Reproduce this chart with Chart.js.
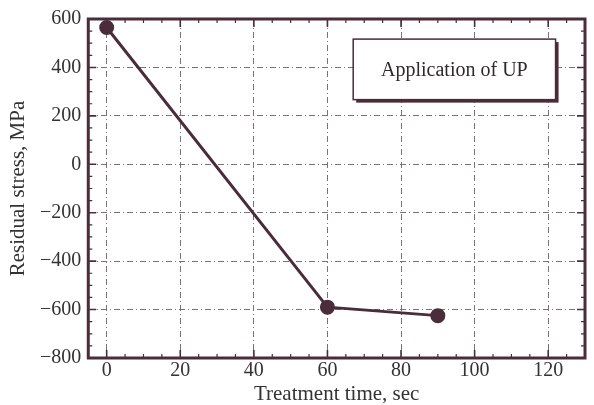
<!DOCTYPE html>
<html lang="en">
<head>
  <meta charset="UTF-8">
  <title>Residual stress vs treatment time</title>
  <script src="https://cdn.jsdelivr.net/npm/chart.js"></script>
  <style>
    html, body { margin: 0; padding: 0; background: #fff; }
    #wrap { width: 594px; height: 405px; }
  </style>
</head>
<body>
<div id="wrap"><canvas id="stressChart"></canvas></div>
<script>
  // data
  const times = [0, 60, 90];
  const stress = [565, -590, -625];
  const xTicks = [0, 20, 40, 60, 80, 100, 120];
  const yTicks = [600, 400, 200, 0, -200, -400, -600, -800];
  const xMinor = [5, 10, 15, 25, 30, 35, 45, 50, 55, 65, 70, 75, 85, 90, 95, 105, 110, 115, 125];
  const yMinor = [550, 500, 450, 350, 300, 250, 150, 100, 50, -50, -100, -150, -250, -300, -350, -450, -500, -550, -650, -700, -750];
  const boxLabel = 'Application of UP';

  const ink = '#4a2c3b';
  const serif = "'Liberation Serif', 'DejaVu Serif', serif";

  // frame, minor ticks and the label box
  const decorations = {
    id: 'decorations',
    afterDraw(chart) {
      const ctx = chart.ctx;
      const a = chart.chartArea;
      const xs = chart.scales.x, ys = chart.scales.y;
      ctx.save();
      ctx.strokeStyle = ink;

      // minor ticks, inward on all four sides
      ctx.lineWidth = 1.2;
      xMinor.forEach(v => {
        const px = xs.getPixelForValue(v);
        ctx.beginPath();
        ctx.moveTo(px, a.bottom); ctx.lineTo(px, a.bottom - 4);
        ctx.moveTo(px, a.top); ctx.lineTo(px, a.top + 4);
        ctx.stroke();
      });
      yMinor.forEach(v => {
        const py = ys.getPixelForValue(v);
        ctx.beginPath();
        ctx.moveTo(a.left, py); ctx.lineTo(a.left + 4, py);
        ctx.moveTo(a.right, py); ctx.lineTo(a.right - 4, py);
        ctx.stroke();
      });
      // major ticks
      ctx.lineWidth = 1.6;
      xTicks.forEach(v => {
        const px = xs.getPixelForValue(v);
        ctx.beginPath();
        ctx.moveTo(px, a.bottom); ctx.lineTo(px, a.bottom - 8);
        ctx.moveTo(px, a.top); ctx.lineTo(px, a.top + 8);
        ctx.stroke();
      });
      yTicks.forEach(v => {
        const py = ys.getPixelForValue(v);
        ctx.beginPath();
        ctx.moveTo(a.left, py); ctx.lineTo(a.left + 8, py);
        ctx.moveTo(a.right, py); ctx.lineTo(a.right - 8, py);
        ctx.stroke();
      });

      // frame
      ctx.lineWidth = 3;
      ctx.strokeRect(a.left, a.top, a.right - a.left, a.bottom - a.top);

      // label box with shadow
      const bx1 = xs.getPixelForValue(67), bx2 = xs.getPixelForValue(122);
      const by1 = ys.getPixelForValue(517), by2 = ys.getPixelForValue(267);
      ctx.fillStyle = ink;
      ctx.fillRect(bx1 + 3, by1 + 3, bx2 - bx1, by2 - by1);
      ctx.fillStyle = '#fff';
      ctx.fillRect(bx1, by1, bx2 - bx1, by2 - by1);
      ctx.lineWidth = 1.5;
      ctx.strokeRect(bx1, by1, bx2 - bx1, by2 - by1);
      ctx.fillStyle = '#2e2a2c';
      ctx.font = '20px ' + serif;
      ctx.textAlign = 'center';
      ctx.textBaseline = 'middle';
      ctx.fillText(boxLabel, (bx1 + bx2) / 2, (by1 + by2) / 2 + 1);
      ctx.restore();
    }
  };

  new Chart(document.getElementById('stressChart'), {
    type: 'scatter',
    data: {
      datasets: [{
        data: times.map((t, i) => ({ x: t, y: stress[i] })),
        showLine: true,
        borderColor: ink,
        backgroundColor: ink,
        borderWidth: 3,
        pointRadius: 6,
        pointHoverRadius: 6
      }]
    },
    options: {
      responsive: true,
      maintainAspectRatio: false,
      animation: false,
      layout: { padding: { top: 19, right: 3, left: 8, bottom: 0 } },
      plugins: { legend: { display: false }, tooltip: { enabled: false } },
      scales: {
        x: {
          type: 'linear',
          min: -5,
          max: 130,
          afterBuildTicks: s => { s.ticks = xTicks.map(v => ({ value: v })); },
          grid: {
            color: '#7a7078',
            lineWidth: 1,
            drawTicks: false
          },
          border: { display: false, dash: [6, 3, 1, 3] },
          ticks: {
            color: '#333',
            padding: 3,
            font: { family: serif, size: 20, lineHeight: 1 }
          },
          title: {
            display: true,
            text: 'Treatment time, sec',
            color: '#333',
            padding: { top: 0, bottom: 0 },
            font: { family: serif, size: 21, lineHeight: 1 }
          }
        },
        y: {
          type: 'linear',
          min: -800,
          max: 600,
          afterBuildTicks: s => { s.ticks = yTicks.map(v => ({ value: v })); },
          grid: {
            color: '#7a7078',
            lineWidth: 1,
            drawTicks: false
          },
          border: { display: false, dash: [6, 3, 1, 3] },
          ticks: {
            color: '#333',
            padding: 7,
            font: { family: serif, size: 20, lineHeight: 1 },
            callback: v => v < 0 ? '\u2212' + Math.abs(v) : String(v)
          },
          title: {
            display: true,
            text: 'Residual stress, MPa',
            color: '#333',
            padding: { top: 0, bottom: 4 },
            font: { family: serif, size: 21, lineHeight: 1 }
          }
        }
      }
    },
    plugins: [decorations]
  });
</script>
</body>
</html>
